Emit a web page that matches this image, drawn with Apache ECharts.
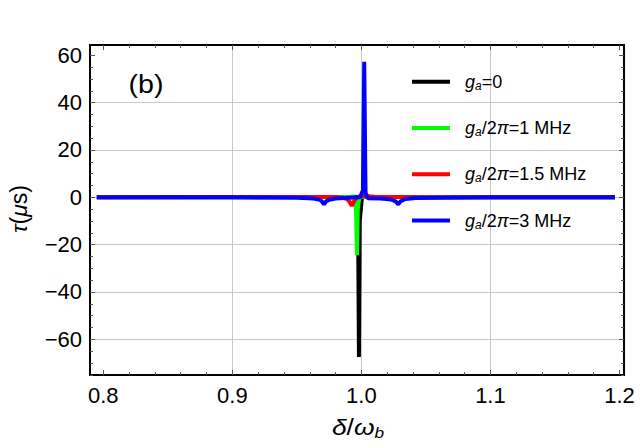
<!DOCTYPE html>
<html>
<head>
<meta charset="utf-8">
<script src="https://cdn.jsdelivr.net/npm/echarts@6/dist/echarts.min.js"></script>
<style>
  html, body { margin: 0; padding: 0; background: #fff; }
  #chart { width: 640px; height: 448px; }
</style>
</head>
<body>
<div id="chart"></div>
<script>
// ---- data ----
const blackX = [0.795, 0.9, 0.95, 0.99, 0.996, 0.9975, 0.9981, 0.9987, 1.0005, 1.005, 1.05, 1.1, 1.1965];
const blackY = [0, 0.05, 0.1, 0.15, 0.2, -15, -67.5, -10, 0.3, 0.2, 0.1, 0.03, 0];

const greenX = [0.795, 0.95, 0.99, 0.9945, 0.9958, 0.9966, 0.9972, 0.9985, 1.001, 1.006, 1.05, 1.1965];
const greenY = [0, 0.1, 0.15, 0.2, -5, -24.5, -5, 0.2, 0.3, 0.15, 0.05, 0];

const redX = [0.795, 0.95, 0.98, 0.986, 0.989, 0.991, 0.9925, 0.994, 0.9955, 0.997, 1.0, 1.003, 1.01, 1.05, 1.1965];
const redY = [0, 0.1, 0.1, -0.2, -0.8, -2.0, -3.6, -2.0, -0.6, 0.2, 0.6, 0.5, 0.2, 0.05, 0];

const blueX = [0.795, 0.9, 0.95, 0.963, 0.968, 0.9695, 0.971, 0.9725, 0.975, 0.98, 0.99, 0.999, 1.0012, 1.0022, 1.0032,
               1.005, 1.015, 1.023, 1.0268, 1.0286, 1.0302, 1.034, 1.042, 1.1, 1.1965];
const blueY = [0, 0.05, -0.2, -0.5, -1.1, -1.8, -3.0, -1.8, -1.0, -0.5, -0.2, 0, 3, 57.3, 2,
               -0.4, -0.5, -0.9, -1.8, -3.0, -1.8, -0.7, -0.3, 0, 0];

const seriesNames = ['g0', 'g1', 'g15', 'g3'];
const legendText = {
  g0: '{g|g}{sub|a}{t|=0}',
  g1: '{g|g}{sub|a}{t|/2}{it|π}{t|=1 MHz}',
  g15: '{g|g}{sub|a}{t|/2}{it|π}{t|=1.5 MHz}',
  g3: '{g|g}{sub|a}{t|/2}{it|π}{t|=3 MHz}'
};

// axis ticks
const xMajorTicks = [0.8, 0.9, 1.0, 1.1, 1.2];
const xGridLines = [0.9, 1.0, 1.1];
const yMajorTicks = [-60, -40, -20, 0, 20, 40, 60];
const yGridLines = [-60, -40, -20, 0, 20, 40];

const X_MIN = 0.7897, X_MAX = 1.2035;
const Y_MIN = -75.08, Y_MAX = 64.35;

const xMinorTicks = [];
for (let i = 0; i <= 20; i++) {
  const v = +(0.8 + i * 0.02).toFixed(2);
  if (i % 5 !== 0) xMinorTicks.push(v);
}
const yMinorTicks = [];
for (let v = -75; v <= 60; v += 5) {
  if (v % 20 !== 0) yMinorTicks.push(v);
}

const FONT = 'Liberation Sans, Arial, sans-serif';
const pairs = (xs, ys) => xs.map((x, i) => [x, ys[i]]);

const chart = echarts.init(document.getElementById('chart'), null, { renderer: 'svg' });

function xAx(position, ticks, len, opts) {
  return Object.assign({
    type: 'value', position: position, min: X_MIN, max: X_MAX,
    axisLine: { show: false, onZero: false },
    axisTick: { show: true, inside: true, length: len, customValues: ticks, lineStyle: { color: '#555', width: 1 } },
    axisLabel: { show: false },
    splitLine: { show: false }
  }, opts || {});
}
function yAx(position, ticks, len, opts) {
  return Object.assign({
    type: 'value', position: position, min: Y_MIN, max: Y_MAX,
    axisLine: { show: false, onZero: false },
    axisTick: { show: true, inside: true, length: len, customValues: ticks, lineStyle: { color: '#555', width: 1 } },
    axisLabel: { show: false },
    splitLine: { show: false }
  }, opts || {});
}

const option = {
  animation: false,
  backgroundColor: '#fff',
  grid: {
    left: 90, top: 45, width: 534, height: 330,
    show: true, borderColor: '#000', borderWidth: 2, backgroundColor: 'transparent'
  },
  xAxis: [
    xAx('bottom', xMajorTicks, 5, {
      axisLabel: {
        show: true, customValues: xMajorTicks, margin: 9,
        fontSize: 22, fontFamily: FONT, color: '#000',
        formatter: v => v.toFixed(1)
      }
    }),
    xAx('bottom', xMinorTicks, 3),
    xAx('top', xMajorTicks, 5),
    xAx('top', xMinorTicks, 3),
    xAx('bottom', xGridLines, 0, {
      axisTick: { show: false, customValues: xGridLines },
      splitLine: { show: true, lineStyle: { color: '#c8c8c8', width: 1 } }
    })
  ],
  yAxis: [
    yAx('left', yMajorTicks, 5, {
      axisLabel: {
        show: true, customValues: yMajorTicks, margin: 8,
        fontSize: 22, fontFamily: FONT, color: '#000',
        formatter: v => (v < 0 ? '\u2212' + Math.abs(v) : String(v))
      }
    }),
    yAx('left', yMinorTicks, 3),
    yAx('right', yMajorTicks, 5),
    yAx('right', yMinorTicks, 3),
    yAx('left', yGridLines, 0, {
      axisTick: { show: false, customValues: yGridLines },
      splitLine: { show: true, lineStyle: { color: '#c8c8c8', width: 1 } }
    })
  ],
  legend: {
    orient: 'vertical',
    left: 412, top: 72.7, padding: 0,
    itemWidth: 38, itemHeight: 4, itemGap: 27.3,
    icon: 'rect',
    selectedMode: false,
    data: seriesNames,
    formatter: name => legendText[name],
    textStyle: {
      fontFamily: FONT, fontSize: 18, color: '#000',
      rich: {
        g: { fontFamily: FONT, fontSize: 18, fontStyle: 'italic', lineHeight: 20, padding: [0, 0, 0, 10], color: '#000' },
        it: { fontFamily: FONT, fontSize: 18, fontStyle: 'italic', lineHeight: 20, color: '#000' },
        sub: { fontFamily: FONT, fontSize: 12, fontStyle: 'italic', lineHeight: 12, verticalAlign: 'bottom', color: '#000' },
        t: { fontFamily: FONT, fontSize: 18, lineHeight: 20, color: '#000' }
      }
    }
  },
  graphic: [
    {
      type: 'text', x: 146, y: 84, scaleX: 1.1,
      style: { text: '(b)', fontFamily: FONT, fontSize: 26, fill: '#000', align: 'center', verticalAlign: 'middle' }
    },
    {
      type: 'text', x: 19, y: 209, rotation: Math.PI / 2,
      style: {
        text: '{i|τ}{t|(}{i|μ}{t|s)}', align: 'center', verticalAlign: 'middle', fill: '#000',
        rich: {
          i: { fontFamily: FONT, fontSize: 23, fontStyle: 'italic' },
          t: { fontFamily: FONT, fontSize: 23 }
        }
      }
    },
    {
      type: 'text', x: 358, y: 427, scaleX: 1.15,
      style: {
        text: '{i|δ}{t|/}{i|ω}{sub|b}', align: 'center', verticalAlign: 'middle', fill: '#000',
        rich: {
          i: { fontFamily: FONT, fontSize: 23, fontStyle: 'italic', lineHeight: 26 },
          t: { fontFamily: FONT, fontSize: 23, lineHeight: 26 },
          sub: { fontFamily: FONT, fontSize: 15, fontStyle: 'italic', lineHeight: 15, verticalAlign: 'bottom' }
        }
      }
    }
  ],
  series: [
    { name: 'g0', type: 'line', data: pairs(blackX, blackY), color: '#000000' },
    { name: 'g1', type: 'line', data: pairs(greenX, greenY), color: '#00ff00' },
    { name: 'g15', type: 'line', data: pairs(redX, redY), color: '#ff0000' },
    { name: 'g3', type: 'line', data: pairs(blueX, blueY), color: '#0000ff' }
  ].map(s => Object.assign(s, {
    xAxisIndex: 0, yAxisIndex: 0,
    showSymbol: false, symbol: 'none', smooth: false,
    lineStyle: { width: 4, color: s.color },
    itemStyle: { color: s.color },
    emphasis: { disabled: true }
  }))
};

chart.setOption(option);
</script>
</body>
</html>
